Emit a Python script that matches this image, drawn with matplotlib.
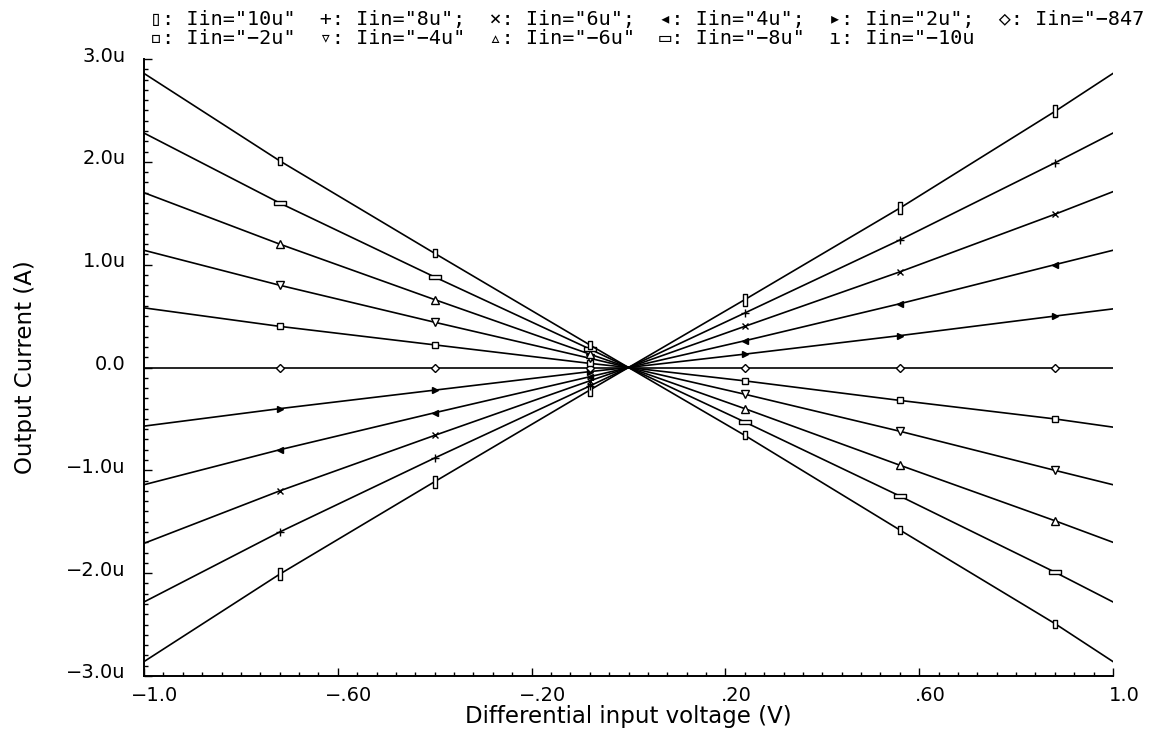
import matplotlib
matplotlib.use("Agg")
import matplotlib.pyplot as plt
from matplotlib.path import Path
from matplotlib.ticker import MultipleLocator
from matplotlib.transforms import ScaledTranslation

# Differential input voltage sweep (V); markers sit on every point but the ends and zero
vd = [-1.0, -0.72, -0.40, -0.08, 0.0, 0.24, 0.56, 0.88, 1.0]
marker_idx = [1, 2, 3, 5, 6, 7]

# Output current (uA) for each input current Iin
iout_p10 = [-2.86, -2.01, -1.11, -0.22, 0.0, 0.66, 1.55, 2.49, 2.86]
iout_p8 = [-2.28, -1.60, -0.88, -0.18, 0.0, 0.53, 1.24, 1.99, 2.28]
iout_p6 = [-1.71, -1.20, -0.66, -0.13, 0.0, 0.40, 0.93, 1.49, 1.71]
iout_p4 = [-1.14, -0.80, -0.44, -0.09, 0.0, 0.26, 0.62, 1.00, 1.14]
iout_p2 = [-0.57, -0.40, -0.22, -0.04, 0.0, 0.13, 0.31, 0.50, 0.57]
iout_0 = [0.0, 0.0, 0.0, 0.0, 0.0, 0.0, 0.0, 0.0, 0.0]
iout_m2 = [0.58, 0.40, 0.22, 0.04, 0.0, -0.13, -0.32, -0.50, -0.58]
iout_m4 = [1.14, 0.80, 0.44, 0.09, 0.0, -0.26, -0.62, -1.00, -1.14]
iout_m6 = [1.70, 1.20, 0.66, 0.13, 0.0, -0.40, -0.95, -1.49, -1.70]
iout_m8 = [2.28, 1.60, 0.88, 0.18, 0.0, -0.53, -1.25, -1.99, -2.28]
iout_m10 = [2.86, 2.01, 1.11, 0.22, 0.0, -0.66, -1.58, -2.49, -2.86]

x_ticks = [-1.0, -0.6, -0.2, 0.2, 0.6, 1.0]
x_tick_labels = ["\u22121.0", "\u2212.60", "\u2212.20", ".20", ".60", "1.0"]
y_ticks = [-3, -2, -1, 0, 1, 2, 3]
y_tick_labels = ["\u22123.0u", "\u22122.0u", "\u22121.0u", "0.0", "1.0u", "2.0u", "3.0u"]

legend_row1 = ('\u25af: Iin="10u"  +: Iin="8u";  \u00d7: Iin="6u";  \u25c2: Iin="4u";  '
               '\u25b8: Iin="2u";  \u25c7: Iin="\u2212847')
legend_row2 = ('\u25ab: Iin="\u22122u"  \u25bf: Iin="\u22124u"  \u25b5: Iin="\u22126u"  '
               '\u25ad: Iin="\u22128u"  \u0131: Iin="\u221210u')


def rect(w, h):
    return Path([(-w, -h), (w, -h), (w, h), (-w, h), (-w, -h)], closed=True)


curves = [iout_p10, iout_p8, iout_p6, iout_p4, iout_p2, iout_0,
          iout_m2, iout_m4, iout_m6, iout_m8, iout_m10]
# marker, size, face colour for each curve
styles = [
    (rect(0.22, 0.5), 8, "white"),
    ("+", 6, "black"),
    ("x", 5, "black"),
    ("<", 5, "black"),
    (">", 5, "black"),
    ("D", 4, "white"),
    ("s", 5, "white"),
    ("v", 6, "white"),
    ("^", 6, "white"),
    (rect(0.5, 0.2), 8, "white"),
    (rect(0.2, 0.5), 6, "white"),
]

fig = plt.figure(figsize=(11.52, 7.32), dpi=100)
ax = fig.add_axes([144 / 1152, 1 - 676 / 732, 969 / 1152, 617 / 732])

for curve, (m, ms, fc) in zip(curves, styles):
    ax.plot(vd, curve, color="black", lw=1.2, marker=m, ms=ms, mfc=fc,
            mec="black", mew=1.0, markevery=marker_idx)

ax.set_xlim(-1, 1)
ax.set_ylim(-3, 3)
for side in ["top", "right"]:
    ax.spines[side].set_visible(False)
for side in ["left", "bottom"]:
    ax.spines[side].set_linewidth(1.4)

ax.set_xticks(x_ticks)
ax.set_xticklabels(x_tick_labels)
ax.set_yticks(y_ticks)
ax.set_yticklabels(y_tick_labels)
ax.xaxis.set_minor_locator(MultipleLocator(0.04))
ax.yaxis.set_minor_locator(MultipleLocator(0.1))
ax.tick_params(which="both", direction="in", width=1.0, top=False, right=False, labelsize=14)
ax.tick_params(which="major", length=6)
ax.tick_params(which="minor", length=3)
ax.tick_params(axis="x", pad=7)
ax.tick_params(axis="y", pad=13)

# labels sit a little right of / above their ticks
for lab in ax.get_xticklabels():
    lab.set_transform(lab.get_transform() + ScaledTranslation(0.11, 0, fig.dpi_scale_trans))
for lab in ax.get_yticklabels():
    lab.set_transform(lab.get_transform() + ScaledTranslation(0, 0.05, fig.dpi_scale_trans))

ax.set_xlabel("Differential input voltage (V)", fontsize=16.5, va="center")
ax.xaxis.set_label_coords(0.5, -41 / 617)
ax.set_ylabel("Output Current (A)", fontsize=16.5, va="center")
ax.yaxis.set_label_coords(-118 / 969, 0.5)

legend_font = ["DejaVu Sans Mono", "DejaVu Sans"]
fig.text(150 / 1152, 1 - 19 / 732, legend_row1, ha="left", va="center",
         fontsize=14.5, family=legend_font)
fig.text(150 / 1152, 1 - 38 / 732, legend_row2, ha="left", va="center",
         fontsize=14.5, family=legend_font)

fig.savefig("out.png", dpi=100, facecolor="white")
